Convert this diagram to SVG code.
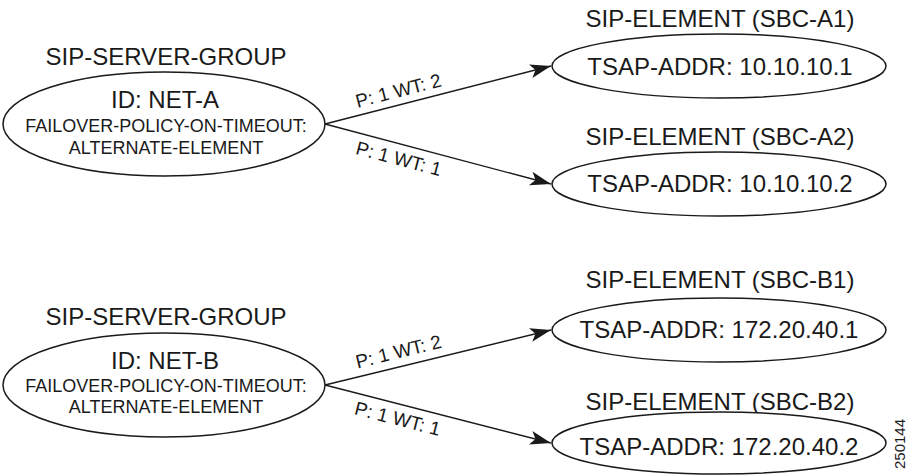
<svg xmlns="http://www.w3.org/2000/svg" width="907" height="476" viewBox="0 0 907 476">
<style>
text{font-family:"Liberation Sans",Arial,Helvetica,sans-serif;fill:#1a1a1a;text-anchor:middle}
.t24{font-size:24px}
.t18{font-size:18px}
.lbl{font-size:19px}
ellipse{fill:#fff;stroke:#1a1a1a;stroke-width:1.5}
.edge{stroke:#1a1a1a;stroke-width:1.4;fill:none;marker-end:url(#ah)}
</style>
<defs>
<marker id="ah" markerUnits="userSpaceOnUse" markerWidth="22" markerHeight="16" viewBox="0 0 22 16" refX="21" refY="8" orient="auto">
<path d="M0,1 L21,8 L0,15 L5,8 Z" fill="#1a1a1a"/>
</marker>
</defs>
<rect width="907" height="476" fill="#fff"/>
<g id="connectors">
<line class="edge" x1="325" y1="124" x2="551" y2="66"/>
<line class="edge" x1="325" y1="124" x2="551" y2="184"/>
<line class="edge" x1="325" y1="385" x2="551" y2="330"/>
<line class="edge" x1="325" y1="385" x2="551" y2="443"/>
<text class="lbl" transform="translate(400,97) rotate(-14.4)">P: 1 WT: 2</text>
<text class="lbl" transform="translate(397,165) rotate(14.9)">P: 1 WT: 1</text>
<text class="lbl" transform="translate(400,358) rotate(-13.7)">P: 1 WT: 2</text>
<text class="lbl" transform="translate(396,425) rotate(14.4)">P: 1 WT: 1</text>
</g>
<g id="net-a">
<text class="t24" x="166" y="65">SIP-SERVER-GROUP</text>
<ellipse cx="164" cy="124" rx="161" ry="52"/>
<text class="t24" x="165" y="108">ID: NET-A</text>
<text class="t18" x="166" y="132">FAILOVER-POLICY-ON-TIMEOUT:</text>
<text class="t18" x="166" y="154">ALTERNATE-ELEMENT</text>
</g>
<g id="sbc-a1">
<text class="t24" x="720" y="27">SIP-ELEMENT (SBC-A1)</text>
<ellipse cx="719" cy="66" rx="167" ry="32"/>
<text class="t24" x="720" y="75">TSAP-ADDR: 10.10.10.1</text>
</g>
<g id="sbc-a2">
<text class="t24" x="720" y="145">SIP-ELEMENT (SBC-A2)</text>
<ellipse cx="719" cy="184" rx="167" ry="32"/>
<text class="t24" x="720" y="192">TSAP-ADDR: 10.10.10.2</text>
</g>
<g id="net-b">
<text class="t24" x="166" y="325">SIP-SERVER-GROUP</text>
<ellipse cx="164" cy="385" rx="161" ry="52"/>
<text class="t24" x="165" y="369">ID: NET-B</text>
<text class="t18" x="166" y="392">FAILOVER-POLICY-ON-TIMEOUT:</text>
<text class="t18" x="166" y="413">ALTERNATE-ELEMENT</text>
</g>
<g id="sbc-b1">
<text class="t24" x="720" y="288">SIP-ELEMENT (SBC-B1)</text>
<ellipse cx="719" cy="330" rx="167" ry="32"/>
<text class="t24" x="719" y="338">TSAP-ADDR: 172.20.40.1</text>
</g>
<g id="sbc-b2">
<text class="t24" x="720" y="410">SIP-ELEMENT (SBC-B2)</text>
<ellipse cx="719" cy="443" rx="167" ry="31"/>
<text class="t24" x="719" y="455">TSAP-ADDR: 172.20.40.2</text>
</g>
<text style="font-size:15px" transform="translate(905,444) rotate(-90)">250144</text>
</svg>
